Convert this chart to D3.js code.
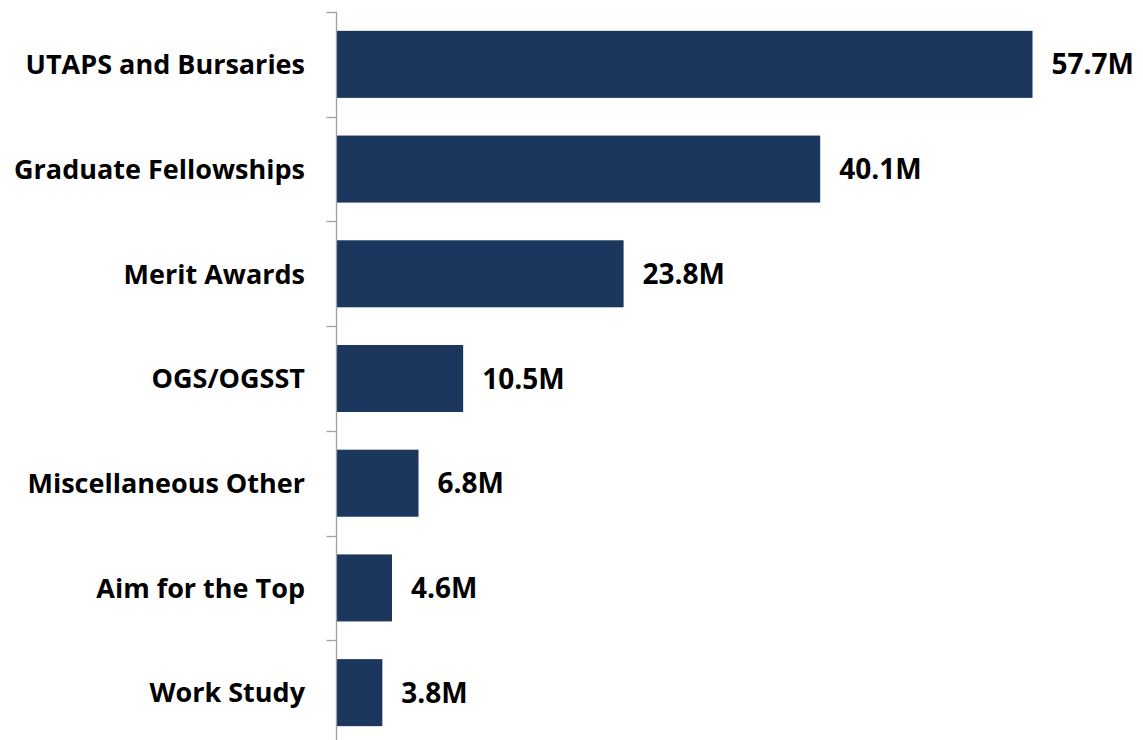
<!DOCTYPE html>
<html>
<head>
<meta charset="utf-8">
<script src="https://cdn.jsdelivr.net/npm/d3@7"></script>
<style>
  html, body { margin: 0; padding: 0; background: #fff; }
  text { font-family: "Open Sans", Lato, sans-serif; font-weight: bold; fill: #000; }
</style>
</head>
<body>
<div id="chart"></div>
<script>
const categories = ["UTAPS and Bursaries", "Graduate Fellowships", "Merit Awards", "OGS/OGSST",
  "Miscellaneous Other", "Aim for the Top", "Work Study"]
const values = [57.7, 40.1, 23.8, 10.5, 6.8, 4.6, 3.8]
const valueLabels = ["57.7M", "40.1M", "23.8M", "10.5M", "6.8M", "4.6M", "3.8M"]

const width = 1143
const height = 740
const axisX = 336.5

const svg = d3.select("#chart")
  .append("svg")
  .attr("width", width)
  .attr("height", height)

const x = d3.scaleLinear()
  .domain([0, 57.7])
  .range([axisX, 1032.5])

const y = d3.scaleBand()
  .domain(categories)
  .range([12, 745])
  .paddingInner(0.36)
  .paddingOuter(0.18)

// category boundaries for tick marks
const band = d3.scaleBand().domain(categories).range([12, 745])
const tickYs = categories.map(c => band(c)).concat([745])

svg.append("g")
  .selectAll("rect")
  .data(values)
  .enter()
  .append("rect")
  .attr("x", x(0) + 0.5)
  .attr("y", (d, i) => y(categories[i]))
  .attr("width", d => x(d) - x(0) - 0.5)
  .attr("height", y.bandwidth())
  .attr("fill", "#1b375e")

const axis = svg.append("g").attr("stroke", "#a0a0a0").attr("stroke-width", 1.3)
axis.append("line")
  .attr("x1", axisX).attr("x2", axisX)
  .attr("y1", 12).attr("y2", 745)
axis.selectAll(".tick")
  .data(tickYs)
  .enter()
  .append("line")
  .attr("x1", axisX - 10).attr("x2", axisX)
  .attr("y1", d => Math.round(d) + 0.5).attr("y2", d => Math.round(d) + 0.5)

svg.append("g")
  .selectAll("text")
  .data(categories)
  .enter()
  .append("text")
  .attr("x", 305)
  .attr("y", d => y(d) + y.bandwidth() / 2)
  .attr("dy", "0.36em")
  .attr("text-anchor", "end")
  .style("font-size", "27px")
  .text(d => d)

svg.append("g")
  .selectAll("text")
  .data(values)
  .enter()
  .append("text")
  .attr("x", d => x(d) + 19)
  .attr("y", (d, i) => y(categories[i]) + y.bandwidth() / 2)
  .attr("dy", "0.36em")
  .style("font-size", "28px")
  .text((d, i) => valueLabels[i])
</script>
</body>
</html>
